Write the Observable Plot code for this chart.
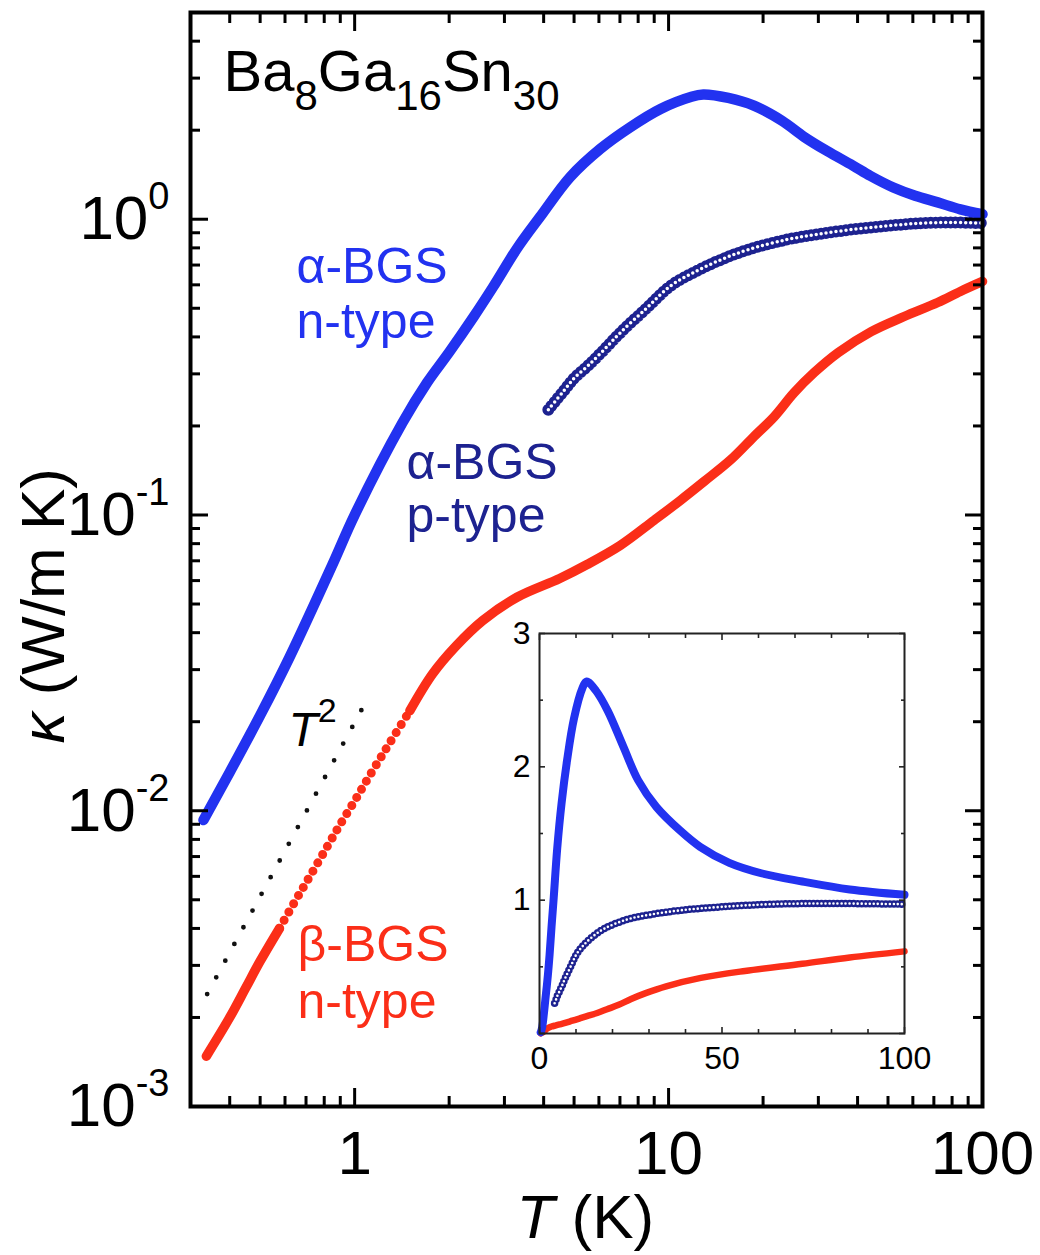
<!DOCTYPE html>
<html><head><meta charset="utf-8">
<script src="https://cdn.jsdelivr.net/npm/d3@7"></script>
<script src="https://cdn.jsdelivr.net/npm/@observablehq/plot@0.6"></script>
<style>
html,body{margin:0;padding:0;background:#fff;}
#wrap{position:relative;width:1040px;height:1255px;overflow:hidden;background:#fff;}
#wrap svg{position:absolute;}
</style></head><body><div id="wrap"></div>
<script>
// ---- data (T in K, kappa in W/m K) ----
const blueT = [0.33, 0.4, 0.5, 0.62, 0.85, 1.0, 1.42, 1.7, 2.0, 2.4, 2.76, 3.3, 3.9, 4.86, 6.06, 7.56, 9.43, 11.76, 12.9, 15.5, 18.7, 23, 27, 32, 38.6, 44, 52, 61, 72, 85, 100];
const blueK = [0.0093, 0.0135, 0.021, 0.033, 0.068, 0.10, 0.205, 0.28, 0.355, 0.47, 0.59, 0.80, 1.02, 1.39, 1.73, 2.05, 2.36, 2.59, 2.64, 2.57, 2.42, 2.15, 1.90, 1.70, 1.52, 1.40, 1.28, 1.20, 1.14, 1.08, 1.04];
const navyT = [4.14, 4.6, 5.0, 5.51, 6.2, 7.03, 8.5, 10.1, 12, 14.7, 18, 24, 30, 39, 50, 63.8, 80, 100];
const navyK = [0.227, 0.26, 0.29, 0.318, 0.36, 0.414, 0.50, 0.593, 0.66, 0.73, 0.79, 0.855, 0.89, 0.925, 0.95, 0.97, 0.975, 0.97];
const redT = [0.337, 0.40, 0.45, 0.5, 0.576, 0.65, 0.72, 0.814, 0.9, 1.0, 1.09, 1.2, 1.3, 1.5, 1.77, 2.1, 2.56, 3.29, 4.5, 5.5, 7.03, 9.0, 10.9, 13, 15.8, 18.5, 21.7, 25.1, 29.1, 34.7, 44.2, 56.3, 72, 85, 100];
const redK = [0.00148, 0.0020, 0.00252, 0.0031, 0.0040, 0.0050, 0.0060, 0.0075, 0.0090, 0.0108, 0.0126, 0.0149, 0.0171, 0.0218, 0.029, 0.036, 0.044, 0.0527, 0.061, 0.068, 0.079, 0.096, 0.112, 0.13, 0.154, 0.182, 0.215, 0.259, 0.303, 0.354, 0.417, 0.469, 0.523, 0.57, 0.616];
const guideT = [0.339, 1.092];
const guideK = [0.0024, 0.0236];

// ---- ticks ----
const majorT = [1, 10, 100];
const xTickLabels = ["1", "10", "100"];
const minorT = [0.4, 0.5, 0.6, 0.7, 0.8, 0.9, 2, 3, 4, 5, 6, 7, 8, 9, 20, 30, 40, 50, 60, 70, 80, 90];
const majorK = [0.001, 0.01, 0.1, 1];
const yTickExp = ["-3", "-2", "-1", "0"];
const minorK = [0.002, 0.003, 0.004, 0.005, 0.006, 0.007, 0.008, 0.009, 0.02, 0.03, 0.04, 0.05, 0.06, 0.07, 0.08, 0.09, 0.2, 0.3, 0.4, 0.5, 0.6, 0.7, 0.8, 0.9, 2, 3, 4];
const insetMajorT = [0, 50, 100];
const insetMinorT = [10, 20, 30, 40, 60, 70, 80, 90];
const insetMajorK = [0, 1, 2, 3];
const insetMinorK = [0.5, 1.5, 2.5];
const insetYLabels = [1, 2, 3];

const FONT = '"Liberation Sans", Arial, Helvetica, sans-serif';
const BLUE = "#2232f0", NAVY = "#1d2290", RED = "#fb2e18";

const zip = (T, K) => T.map((t, i) => ({T: t, k: K[i]}));
const blue = zip(blueT, blueK), navy = zip(navyT, navyK), red = zip(redT, redK), guide = zip(guideT, guideK);
const redLow = red.filter(d => d.T <= 0.576);
const redMid = red.filter(d => d.T >= 0.576 && d.T <= 1.5);
const redHigh = red.filter(d => d.T >= 1.5);

const tk = {strokeWidth: 3, fill: "none", label: null, stroke: "#000"};
const xy = {x: "T", y: "k"};

const main = Plot.plot({
  width: 1040, height: 1255,
  marginTop: 12, marginLeft: 190, marginRight: 58, marginBottom: 149,
  style: {fontFamily: FONT, background: "transparent", overflow: "visible", color: "#000"},
  x: {type: "log", domain: [0.3, 100], axis: null, label: null},
  y: {type: "log", domain: [0.001, 5], axis: null, label: null},
  marks: [
    Plot.line(guide, {...xy, stroke: "#111", strokeWidth: 4.8, strokeDasharray: "0 19", strokeLinecap: "round"}),
    Plot.line(navy, {...xy, stroke: NAVY, strokeWidth: 12, strokeDasharray: "0 5", strokeLinecap: "round", curve: "catmull-rom"}),
    Plot.line(navy, {...xy, stroke: "#fff", strokeWidth: 3.5, strokeDasharray: "0 5", strokeLinecap: "round", curve: "catmull-rom"}),
    Plot.line(blue, {...xy, stroke: BLUE, strokeWidth: 10.5, strokeLinecap: "round", curve: "catmull-rom"}),
    Plot.line(redLow, {...xy, stroke: RED, strokeWidth: 9.5, strokeLinecap: "round", curve: "catmull-rom"}),
    Plot.line(redMid, {...xy, stroke: RED, strokeWidth: 9, strokeDasharray: "0 9.5", strokeLinecap: "round", curve: "catmull-rom"}),
    Plot.line(redHigh, {...xy, stroke: RED, strokeWidth: 9.5, strokeLinecap: "round", curve: "catmull-rom"}),
    Plot.axisX(minorT, {anchor: "bottom", tickSize: -10, ...tk}),
    Plot.axisX(majorT, {anchor: "bottom", tickSize: -18, ...tk}),
    Plot.axisX(minorT, {anchor: "top", tickSize: -10, ...tk}),
    Plot.axisX(majorT, {anchor: "top", tickSize: -18, ...tk}),
    Plot.axisY(minorK, {anchor: "left", tickSize: -10, ...tk}),
    Plot.axisY(majorK, {anchor: "left", tickSize: -18, ...tk}),
    Plot.axisY(minorK, {anchor: "right", tickSize: -10, ...tk}),
    Plot.axisY(majorK, {anchor: "right", tickSize: -18, ...tk}),
    Plot.frame({stroke: "#000", strokeWidth: 4}),
    Plot.text(majorT, {x: d => d, frameAnchor: "bottom", text: (d, i) => xTickLabels[i], dy: 67, lineAnchor: "bottom", fontSize: 62, fill: "#000"}),
    Plot.text(majorK, {y: d => d, frameAnchor: "left", text: (d, i) => "10^{" + yTickExp[i] + "}", dx: -21, textAnchor: "end", lineAnchor: "middle", fontSize: 62, fill: "#000", className: "rich-ytick"}),
    Plot.text(["*T* (K)"], {frameAnchor: "bottom-left", text: d => d, dx: 326, dy: 131, textAnchor: "start", lineAnchor: "bottom", fontSize: 62, fill: "#000", className: "rich-plain"}),
    Plot.text(["*κ* (W/m K)"], {frameAnchor: "left", text: d => d, dx: -127, dy: 184, rotate: -90, textAnchor: "start", lineAnchor: "bottom", fontSize: 62, fill: "#000", className: "rich-plain"}),
    Plot.text(["Ba_{8}Ga_{16}Sn_{30}"], {frameAnchor: "top-left", text: d => d, dx: 33, dy: 78, textAnchor: "start", lineAnchor: "bottom", fontSize: 58, fill: "#000", className: "rich-ba"}),
    Plot.text(["*T*^{2}"], {frameAnchor: "top-left", text: d => d, dx: 98, dy: 733, textAnchor: "start", lineAnchor: "bottom", fontSize: 48, fill: "#000", className: "rich-t2"}),
    Plot.text(["α-BGS\nn-type"], {frameAnchor: "top-left", text: d => d, dx: 106, dy: 325, textAnchor: "start", lineAnchor: "bottom", lineHeight: 1.09, fontSize: 50, fill: BLUE}),
    Plot.text(["α-BGS\np-type"], {frameAnchor: "top-left", text: d => d, dx: 216, dy: 519, textAnchor: "start", lineAnchor: "bottom", lineHeight: 1.06, fontSize: 50, fill: NAVY}),
    Plot.text(["β-BGS\nn-type"], {frameAnchor: "top-left", text: d => d, dx: 107, dy: 1005, textAnchor: "start", lineAnchor: "bottom", lineHeight: 1.14, fontSize: 50, fill: RED})
  ]
});

const itk = {strokeWidth: 1.6, fill: "none", label: null, stroke: "#222"};
const inset = Plot.plot({
  width: 464, height: 480,
  marginTop: 33, marginLeft: 59, marginRight: 40, marginBottom: 47,
  style: {fontFamily: FONT, background: "transparent", overflow: "visible", color: "#000"},
  x: {domain: [0, 100], axis: null, label: null},
  y: {domain: [0, 3], axis: null, label: null},
  marks: [
    Plot.line(red, {...xy, stroke: RED, strokeWidth: 6.5, strokeLinecap: "round", curve: "catmull-rom"}),
    Plot.line(navy, {...xy, stroke: NAVY, strokeWidth: 7.5, strokeDasharray: "0 4", strokeLinecap: "round", curve: "catmull-rom"}),
    Plot.line(navy, {...xy, stroke: "#fff", strokeWidth: 2.6, strokeDasharray: "0 4", strokeLinecap: "round", curve: "catmull-rom"}),
    Plot.line(blue, {...xy, stroke: BLUE, strokeWidth: 8, strokeLinecap: "round", curve: "catmull-rom"}),
    Plot.axisX(insetMinorT, {anchor: "bottom", tickSize: -4, ...itk}),
    Plot.axisX(insetMajorT, {anchor: "bottom", tickSize: -6, ...itk}),
    Plot.axisX(insetMinorT, {anchor: "top", tickSize: -4, ...itk}),
    Plot.axisX(insetMajorT, {anchor: "top", tickSize: -6, ...itk}),
    Plot.axisY(insetMinorK, {anchor: "left", tickSize: -4, ...itk}),
    Plot.axisY(insetMajorK, {anchor: "left", tickSize: -6, ...itk}),
    Plot.axisY(insetMinorK, {anchor: "right", tickSize: -4, ...itk}),
    Plot.axisY(insetMajorK, {anchor: "right", tickSize: -6, ...itk}),
    Plot.frame({stroke: "#222", strokeWidth: 2}),
    Plot.text(insetMajorT, {x: d => d, frameAnchor: "bottom", text: d => String(d), dy: 35, lineAnchor: "bottom", fontSize: 32, fill: "#000"}),
    Plot.text(insetYLabels, {y: d => d, frameAnchor: "left", text: d => String(d), dx: -9, textAnchor: "end", lineAnchor: "middle", fontSize: 32, fill: "#000"})
  ]
});

// rich text: *italic*, _{sub}, ^{sup}
function rich(svg, cls, cfg) {
  svg.querySelectorAll(`g.${cls} text`).forEach(t => {
    const s = t.textContent;
    const parts = s.split(/(\*[^*]+\*|_\{[^}]*\}|\^\{[^}]*\})/).filter(p => p !== "");
    t.textContent = "";
    let cur = 0;
    for (const p of parts) {
      const ts = document.createElementNS("http://www.w3.org/2000/svg", "tspan");
      let target = 0;
      if (p.startsWith("*")) { ts.textContent = p.slice(1, -1); ts.setAttribute("font-style", "italic"); }
      else if (p.startsWith("_{")) { ts.textContent = p.slice(2, -1); ts.setAttribute("font-size", cfg.subSize); target = cfg.subShift; }
      else if (p.startsWith("^{")) { ts.textContent = p.slice(2, -1); ts.setAttribute("font-size", cfg.supSize); target = cfg.supShift; }
      else ts.textContent = p;
      if (target !== cur) { ts.setAttribute("dy", target - cur); cur = target; }
      t.appendChild(ts);
    }
  });
}
rich(main, "rich-ytick", {supSize: 38, supShift: -30});
rich(main, "rich-plain", {});
rich(main, "rich-ba", {subSize: 42, subShift: 19});
rich(main, "rich-t2", {supSize: 34, supShift: -24});

main.style.left = "0px"; main.style.top = "0px";
inset.style.left = "480px"; inset.style.top = "600px";
const wrap = document.getElementById("wrap");
wrap.append(main, inset);
</script>
</body></html>
